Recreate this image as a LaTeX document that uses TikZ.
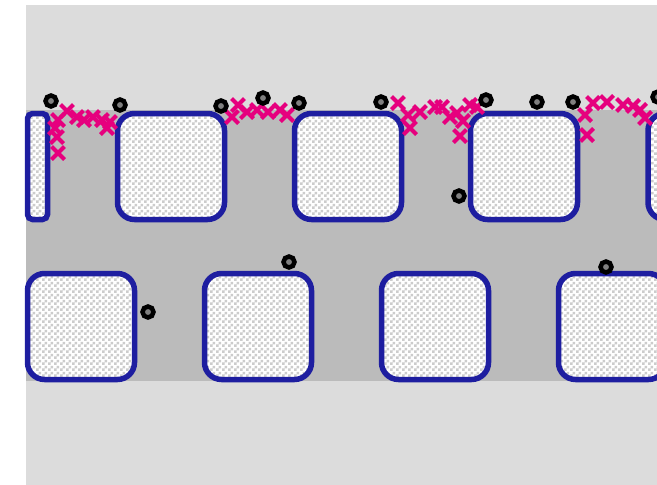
\documentclass[tikz,border=0pt]{standalone}
\usepackage{xcolor}
\usepackage{tikz}
\usetikzlibrary{patterns.meta}
\definecolor{wallblue}{HTML}{1E1EA0}
\definecolor{tagpink}{HTML}{E6007E}
\definecolor{bulkgray}{HTML}{BBBBBB}
\definecolor{pagegray}{HTML}{DCDCDC}
\definecolor{checkgray}{HTML}{CCCCCC}
\definecolor{coregray}{HTML}{808080}
\tikzdeclarepattern{
  name=checks,
  bottom left={(0pt,0pt)},
  top right={(6pt,6pt)},
  tile size={(6pt,6pt)},
  code={
    \pgfpathrectangle{\pgfpointorigin}{\pgfpoint{3pt}{3pt}}
    \pgfpathrectangle{\pgfpoint{3pt}{3pt}}{\pgfpoint{3pt}{3pt}}
    \pgfusepath{fill}
  }
}
\tikzset{
  poreblock/.style={draw=wallblue,line width=5.5pt,rounded corners=17pt,pattern=checks,pattern color=checkgray,preaction={fill=white}},
  tagcross/.pic={\draw[draw=tagpink,line width=4.2pt] (-6.5,-6.5) -- (6.5,6.5) (-6.5,6.5) -- (6.5,-6.5);},
  particle/.style={draw=black,line width=4.5pt,fill=coregray}
}

\begin{document}
\begin{tikzpicture}[x=1pt,y=-1pt]
  \useasboundingbox (0,0) rectangle (657,485);
  \begin{scope}
    \clip (0,0) rectangle (657,485);
    % background and the darker channel band
    \fill[pagegray] (26,5) rectangle (657,485);
    \fill[bulkgray] (26,110) rectangle (657,381);
    % upper row of blocks
    \draw[poreblock,rounded corners=5pt] (27.5,113.5) rectangle (47.5,219.5);
    \foreach \cx in {171,348,524,701.5}
      \draw[poreblock] (\cx-53.5,113.5) rectangle (\cx+53.5,219.5);
    % lower row of blocks
    \foreach \cx in {81,258,435,612}
      \draw[poreblock] (\cx-53.5,273.5) rectangle (\cx+53.5,379.5);
    % crosses along the upper edge
    \foreach \px/\py in {67/111,58/120,55/128,57/137,58/153,77/117,84/120,93/117,102/120,107/128,110/122,
                         232/117,238/105,247/112,257/110,268/112,280/110,287/115,
                         398/103,408/115,410/128,420/112,435/107,442/107,450/117,457/113,
                         463/121,460/136,470/105,477/107,
                         585/115,587/135,593/103,607/102,623/105,633/106,640/110,645/118}
      \pic at (\px,\py) {tagcross};
    % particles
    \foreach \px/\py in {51/101,120/105,221/106,263/98,299/103,381/102,486/100,537/102,
                         573/102,658/97,459/196,289/262,148/312,606/267}
      \draw[particle] (\px,\py) circle (5.5);
  \end{scope}
\end{tikzpicture}
\end{document}
